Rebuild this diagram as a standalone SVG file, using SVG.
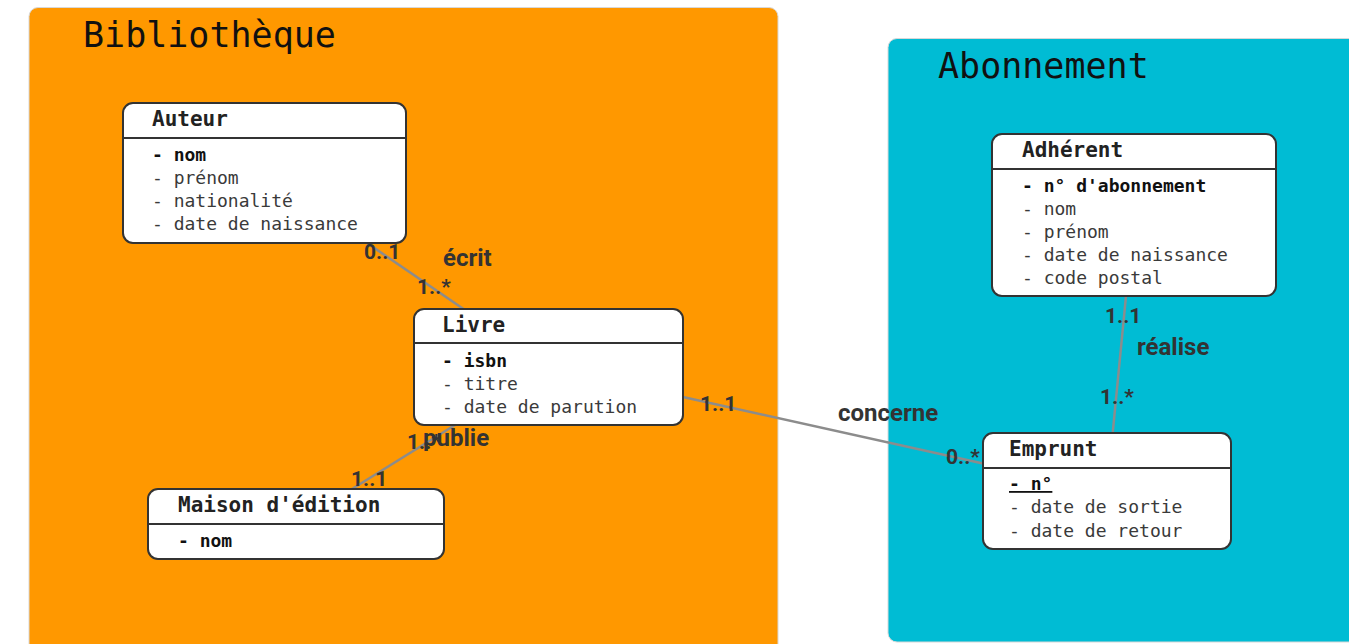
<svg xmlns="http://www.w3.org/2000/svg" width="1349" height="644" viewBox="0 0 1349 644">
<style>
.cl-title{font-family:"DejaVu Sans Mono",monospace;font-size:35px;fill:#111}
.box{fill:#fff;stroke:#333;stroke-width:2}
.sep{stroke:#333;stroke-width:2}
.nt{font-family:"DejaVu Sans Mono",monospace;font-size:21px;font-weight:bold;fill:#222}
.at{font-family:"DejaVu Sans Mono",monospace;font-size:18px;fill:#3a3a3a}
.key{font-weight:bold;fill:#111}
.edge{stroke:#8c8c8c;stroke-width:2.5;fill:none}
.lbl{font-family:Roboto,"Liberation Sans",sans-serif;font-size:21px;font-weight:bold;fill:#333}
.name{font-size:24px}
</style>
<rect width="1349" height="644" fill="#fff"/>
<g id="cluster-bibliotheque">
<rect x="29" y="7.5" width="749" height="660" rx="9" fill="#ff9800" stroke="#d8d8d8" stroke-width="1"/>
<text class="cl-title" x="83" y="47">Bibliothèque</text>
</g>
<g id="cluster-abonnement">
<rect x="888" y="38.5" width="480" height="603.5" rx="9" fill="#00bcd4" stroke="#d8d8d8" stroke-width="1"/>
<text class="cl-title" x="938" y="78">Abonnement</text>
</g>
<g id="connectors">
<line class="edge" x1="367" y1="243" x2="463.5" y2="309"/>
<line class="edge" x1="455" y1="425" x2="352" y2="489"/>
<line class="edge" x1="683" y1="397" x2="983" y2="463.5"/>
<line class="edge" x1="1126" y1="296" x2="1112.7" y2="433"/>
<text class="lbl" x="364" y="259">0..1</text>
<text class="lbl name" x="443" y="266">écrit</text>
<text class="lbl" x="417" y="294">1..*</text>
<text class="lbl" x="407" y="449">1..*</text>
<text class="lbl name" x="423" y="446">publie</text>
<text class="lbl" x="351" y="486">1..1</text>
<text class="lbl" x="700" y="411">1..1</text>
<text class="lbl name" x="838" y="421">concerne</text>
<text class="lbl" x="946" y="464">0..*</text>
<text class="lbl" x="1105" y="323">1..1</text>
<text class="lbl name" x="1137" y="355">réalise</text>
<text class="lbl" x="1100" y="404">1..*</text>
</g>
<g id="node-auteur">
<rect class="box" x="123" y="103" width="283" height="140" rx="10"/>
<line class="sep" x1="123" y1="138" x2="406" y2="138"/>
<text class="nt" x="152" y="126">Auteur</text>
<text class="at key" x="152" y="161">- nom</text>
<text class="at" x="152" y="184">- prénom</text>
<text class="at" x="152" y="207">- nationalité</text>
<text class="at" x="152" y="230">- date de naissance</text>
</g>
<g id="node-livre">
<rect class="box" x="414" y="309" width="269" height="116" rx="10"/>
<line class="sep" x1="414" y1="343" x2="683" y2="343"/>
<text class="nt" x="442" y="332">Livre</text>
<text class="at key" x="442" y="367">- isbn</text>
<text class="at" x="442" y="390">- titre</text>
<text class="at" x="442" y="413">- date de parution</text>
</g>
<g id="node-maison">
<rect class="box" x="148" y="489" width="296" height="70" rx="10"/>
<line class="sep" x1="148" y1="524" x2="444" y2="524"/>
<text class="nt" x="178" y="512">Maison d'édition</text>
<text class="at key" x="178" y="547">- nom</text>
</g>
<g id="node-adherent">
<rect class="box" x="992" y="134" width="284" height="162" rx="10"/>
<line class="sep" x1="992" y1="169" x2="1276" y2="169"/>
<text class="nt" x="1022" y="157">Adhérent</text>
<text class="at key" x="1022" y="192">- n° d'abonnement</text>
<text class="at" x="1022" y="215">- nom</text>
<text class="at" x="1022" y="238">- prénom</text>
<text class="at" x="1022" y="261">- date de naissance</text>
<text class="at" x="1022" y="284">- code postal</text>
</g>
<g id="node-emprunt">
<rect class="box" x="983" y="433" width="248" height="116" rx="10"/>
<line class="sep" x1="983" y1="468" x2="1231" y2="468"/>
<text class="nt" x="1009" y="456">Emprunt</text>
<text class="at key" x="1009" y="490" text-decoration="underline">- n°</text>
<text class="at" x="1009" y="513">- date de sortie</text>
<text class="at" x="1009" y="537">- date de retour</text>
</g>
</svg>
